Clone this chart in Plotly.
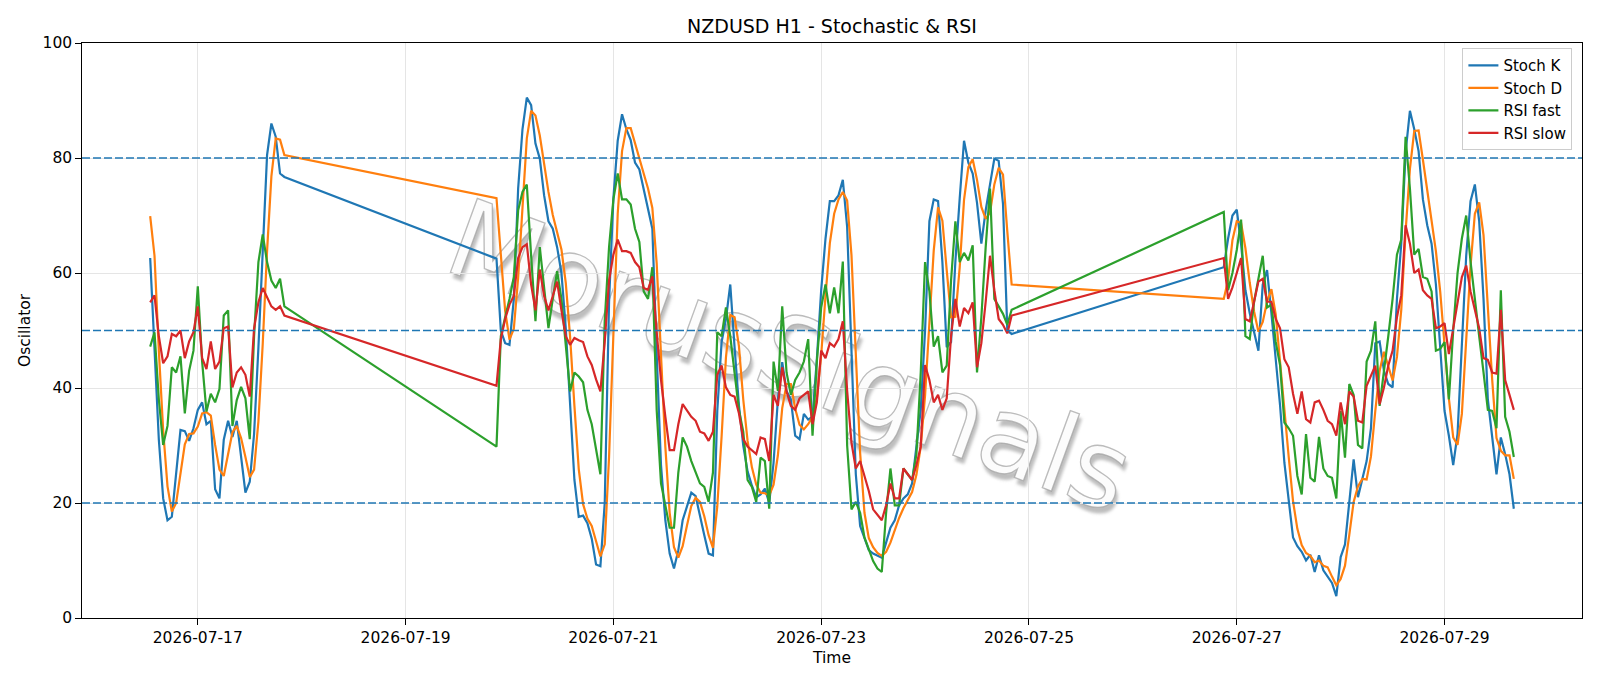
import base64
import pandas as pd
import plotly.graph_objects as go

# ---------------- data (hourly bars, three sessions separated by weekends) ----------------
SEG_STARTS = ["2026-07-16 13:00", "2026-07-19 21:00", "2026-07-26 21:00"]

STOCH_K_1 = [62.6, 46, 31, 20.8, 17, 17.6, 25.3, 32.7, 32.5, 30.8, 33, 36.2, 37.5, 33.7, 34.3, 22.4,
             20.8, 31, 34.3, 31.5, 34.3, 28, 21.8, 23.7, 32, 47, 64, 80.5, 86, 83.7, 77.3, 76.7]
STOCH_D_1 = [69.9, 63, 46.5, 32.6, 22.9, 18.5, 20, 25.2, 30.2, 32, 32.1, 33.3, 35.6, 35.8, 35.2, 30.1,
             25.8, 24.7, 28.7, 32.3, 33.4, 31.3, 28, 24.5, 25.8, 34.2, 47.7, 63.8, 76.8, 83.4, 83.2, 80.5]
RSI_FAST_1 = [47.2, 49.7, 38, 30.1, 33.4, 43.6, 42.7, 45.5, 35.6, 43, 46.5, 57.7, 44.6, 35.9, 39, 37.5,
              39.8, 52.6, 53.5, 33.4, 37.9, 40.2, 38.2, 31.1, 49, 61.9, 66.7, 61.9, 58.7, 57.4, 59, 54.2]
RSI_SLOW_1 = [54.9, 56.1, 49, 44.3, 45.5, 49.4, 49, 50, 45.2, 48.1, 49.7, 54.2, 45.2, 43.3, 48.1, 43.3,
              44.6, 50.4, 50.7, 40.1, 42.7, 43.6, 42.3, 38.5, 50.4, 54.9, 57.4, 55.8, 54.2, 53.6, 54.2, 52.6]

STOCH_K_2 = [62.5, 50, 47.8, 47.5, 55.5, 74.7, 85, 90.5, 89.2, 82.5,
             79.9, 73.5, 69, 67.7, 64.5, 60, 50.4, 36.2, 24, 17.6,
             17.8, 16.5, 13.8, 9.3, 9, 20, 55, 73, 83, 87.6,
             85, 83.1, 79.2, 78, 74.7, 71.5, 67.7, 45.9, 26.6, 17,
             11.2, 8.6, 11.8, 17, 19.6, 21.8, 21.2, 17.6, 14.4, 11.2,
             10.9, 36, 48, 52, 58, 47, 37, 30, 25.5, 23,
             21, 21.5, 22.5, 20, 27, 38, 44.5, 39.5, 38, 31.7,
             31.1, 35.5, 34.5, 35, 45, 57, 66, 72.5, 72.5, 73.5,
             76.2, 68, 45, 25, 16, 13.8, 11.8, 11.2, 10.8, 10.5,
             13.1, 15.7, 17, 19.6, 20.8, 21.5, 23.4, 29.8, 36.2, 50,
             69, 72.8, 72.5, 61.9, 47.1, 48, 62, 73, 83, 79.2,
             77.3, 72.2, 65.1, 70.9, 75.4, 79.9, 79.5, 72, 50, 49.4]
STOCH_D_2 = [73, 63.1, 53.4, 48.4, 50.3, 59.2, 71.7, 83.4, 88.2, 87.4,
             83.9, 78.6, 74.1, 70.1, 67.1, 64.1, 58.3, 48.9, 36.9, 25.9,
             19.8, 17.3, 16, 13.2, 10.7, 12.8, 28, 49.3, 70.3, 81.2,
             85.2, 85.2, 82.4, 80.1, 77.3, 74.7, 71.3, 61.7, 46.7, 29.8,
             18.3, 12.3, 10.5, 12.5, 16.1, 19.5, 20.9, 20.2, 17.7, 14.4,
             12.2, 19.4, 31.6, 45.3, 52.7, 52.3, 47.3, 38, 30.8, 26.2,
             23.2, 21.8, 21.7, 21.3, 23.2, 28.3, 36.5, 40.7, 40.7, 36.4,
             33.6, 32.8, 33.7, 35, 38.2, 45.7, 56, 65.2, 70.3, 72.8,
             74.1, 72.6, 63.1, 46, 28.7, 18.3, 13.9, 12.3, 11.3, 10.8,
             11.5, 13.1, 15.3, 17.4, 19.1, 20.6, 21.9, 24.9, 29.8, 38.7,
             51.7, 63.9, 71.4, 69.1, 60.5, 52.3, 52.4, 61, 72.7, 78.4,
             79.8, 76.2, 71.5, 69.4, 70.5, 75.4, 78.3, 77.1, 67.2, 58]
RSI_FAST_2 = [29.8, 49, 52.3, 55.5, 59.3, 70.9, 74.1, 75.4, 63, 51.6,
              64.5, 56.8, 50.4, 55.5, 60.3, 55.5, 47.8, 39.4, 42.7, 42,
              41, 36.2, 33.7, 29.2, 25, 51.6, 64.5, 72.8, 77.3, 72.8,
              72.8, 71.9, 67.7, 65.4, 56.8, 55.5, 61, 36.2, 23.4, 19.6,
              15.7, 15.7, 25.3, 31.4, 29.8, 27.3, 25.3, 23.4, 22.8, 20.2,
              25.3, 49.7, 49, 54, 49, 42.7, 36.2, 32.4, 24, 22.8,
              20.2, 27.9, 27.3, 19, 44.6, 39.5, 54.2, 42.7, 38.8, 41.4,
              42.7, 44.6, 48.5, 31.7, 44.6, 54, 58, 53, 57.5, 53,
              62, 30, 18.9, 20.2, 18.3, 14, 11.9, 9.9, 8.6, 8,
              18.3, 26, 19.6, 19.6, 26, 25, 24, 28.5, 42.7, 61.9,
              56.8, 47.2, 49, 42.7, 43.9, 58.7, 69, 61.9, 63.5, 62.2,
              64.8, 42.7, 52.3, 64.5, 74.7, 55.5, 54.2, 52.9, 51, 53.6]
RSI_SLOW_2 = [40.4, 48.5, 52, 54.5, 56, 62.6, 64.5, 65, 58, 53.5,
              60.6, 56, 53.5, 56, 58.5, 53.5, 49, 47.5, 48.7, 48.3,
              48, 45.5, 44, 41.5, 39.4, 48, 58.7, 63.2, 65.8, 63.8,
              63.8, 63.5, 61.9, 61, 57.4, 57.1, 59.4, 49.7, 41.4, 35,
              29.2, 29.2, 33.7, 37.2, 36.2, 35, 34.3, 32.4, 32.1, 30.8,
              32.4, 42.3, 43.9, 40.1, 38.8, 38.5, 35.6, 31.1, 29.8, 29.2,
              28.5, 31.4, 31.1, 27.3, 38.8, 36.9, 43.6, 39.4, 36.9, 36.2,
              38.2, 38.8, 39.4, 33.7, 37.5, 46.5, 45.2, 47.8, 47.2, 48.5,
              51.6, 39.5, 30.5, 26, 27.3, 24.7, 22.1, 18.9, 18, 17,
              19.6, 23.4, 20.8, 20.8, 26, 25, 24, 26.6, 29.8, 44,
              41.4, 37.5, 38.8, 36.2, 38.2, 49, 55.5, 50.7, 53.9, 53,
              54.9, 43.6, 47.8, 55, 63, 57, 52, 51, 49.5, 52.6]

STOCH_K_3 = [61, 66, 70, 71, 65, 57, 53, 50, 46.5, 58,
             60.5, 53, 45, 37, 27, 20, 14, 12.5, 11.5, 10,
             11, 8, 10.9, 8.3, 7.2, 6.1, 3.8, 10.6, 12.8, 20.2,
             27.6, 21, 24, 27.3, 33, 47.8, 48.1, 43, 40.7, 40.1,
             55.5, 65.1, 81, 88.2, 85, 81.2, 72.8, 68.3, 65.1, 58,
             47, 36, 31.7, 26.6, 32, 48, 63, 72.5, 75.4, 69,
             55.5, 38, 31, 25, 31.4, 28.5, 25, 19]
STOCH_D_3 = [55.5, 58.8, 65.7, 69, 68.7, 64.3, 58.3, 53.3, 49.8, 51.5,
             55, 57.2, 52.8, 45, 36.3, 28, 20.3, 15.5, 12.7, 11.3,
             10.8, 9.7, 10, 9.1, 8.8, 7.2, 5.7, 6.8, 9.1, 14.5,
             20.2, 22.9, 24.2, 24.1, 28.1, 36, 43, 46.3, 43.9, 41.3,
             45.4, 53.6, 67.2, 78.1, 84.7, 84.8, 79.7, 74.1, 68.7, 63.8,
             56.7, 47, 38.2, 31.4, 30.1, 35.5, 47.7, 61.2, 70.3, 72.3,
             66.6, 54.2, 41.5, 31.3, 29.1, 28.3, 28.3, 24.2]
RSI_FAST_3 = [70.6, 57, 60, 64, 69.3, 49, 48.5, 55, 59, 63,
              54, 54.5, 48, 44, 34, 33, 31.7, 24.7, 21.5, 32,
              24.4, 23.7, 31.5, 26, 24.7, 24.4, 20.8, 36, 27.9, 40.7,
              38.8, 30.1, 29.5, 44.6, 46.5, 51.6, 36.9, 42.7, 49, 55.5,
              63.2, 65.8, 83.7, 74.7, 63.2, 64.2, 59.3, 59, 56.8, 46.5,
              46.8, 48, 38, 50, 60, 66, 70, 62, 55, 49,
              42.7, 36.2, 36, 33, 57, 35, 32.4, 28]
RSI_SLOW_3 = [62.6, 55.5, 57.5, 60, 62.6, 52, 51.6, 55, 58.5, 59,
              55, 55, 52, 50.4, 45, 43.6, 39, 35.5, 39.4, 34.6,
              34, 37.5, 37.8, 36.2, 34.3, 33.7, 31.7, 37.5, 33.7, 39.4,
              38.5, 34.3, 34, 40.4, 42, 43.9, 37.2, 40.1, 43.9, 46.5,
              52.3, 56.1, 68.3, 65.1, 60, 60.6, 57, 56.1, 55.5, 50.4,
              50.7, 51.3, 45.9, 50.4, 55.5, 59.3, 61.3, 56.8, 53.6, 50.4,
              45.2, 44.9, 42.7, 42.5, 53.6, 41.4, 38.8, 36.2]

LEVELS = [20, 50, 80]
X_TICKS = ["2026-07-17", "2026-07-19", "2026-07-21", "2026-07-23",
           "2026-07-25", "2026-07-27", "2026-07-29"]
Y_TICKS = [0, 20, 40, 60, 80, 100]
WATERMARK = "MorusSignals"

# ---------------- build ----------------
time = []
for start, n in zip(SEG_STARTS, [len(STOCH_K_1), len(STOCH_K_2), len(STOCH_K_3)]):
    time.extend(pd.date_range(start, periods=n, freq="h"))

series = [
    ("Stoch K", STOCH_K_1 + STOCH_K_2 + STOCH_K_3, "#1f77b4"),
    ("Stoch D", STOCH_D_1 + STOCH_D_2 + STOCH_D_3, "#ff7f0e"),
    ("RSI fast", RSI_FAST_1 + RSI_FAST_2 + RSI_FAST_3, "#2ca02c"),
    ("RSI slow", RSI_SLOW_1 + RSI_SLOW_2 + RSI_SLOW_3, "#d62728"),
]

FONT = "DejaVu Sans"
fig = go.Figure()
for name, vals, col in series:
    fig.add_trace(go.Scatter(x=time, y=vals, mode="lines", name=name,
                             line=dict(color=col, width=2.2)))

for lv in LEVELS:
    fig.add_shape(type="line", xref="paper", x0=0, x1=1, yref="y", y0=lv, y1=lv,
                  line=dict(color="#1f77b4", width=1.5, dash="8px,3px"), layer="above")

# watermark drawn beneath the traces as an SVG background image over the plot area
svg = (
    '<svg xmlns="http://www.w3.org/2000/svg" width="1500" height="575" viewBox="0 0 1500 575">'
    '<defs><filter id="b" x="-20%" y="-20%" width="140%" height="140%">'
    '<feGaussianBlur stdDeviation="1.6"/></filter></defs>'
    '<g transform="translate(708,313) rotate(20)" font-family="DejaVu Sans" font-size="108" '
    'text-anchor="middle" dominant-baseline="central">'
    f'<text x="4" y="4" fill="rgb(110,110,110)" fill-opacity="0.45" filter="url(#b)">{WATERMARK}</text>'
    f'<text x="0" y="0" fill="rgb(252,252,252)" stroke="rgb(160,160,160)" stroke-opacity="0.7" '
    f'stroke-width="1.3">{WATERMARK}</text>'
    '</g></svg>'
)
src = "data:image/svg+xml;base64," + base64.b64encode(svg.encode("utf-8")).decode("ascii")
fig.add_layout_image(dict(source=src, xref="paper", yref="paper", x=0, y=1, sizex=1, sizey=1,
                          xanchor="left", yanchor="top", sizing="stretch", layer="below"))

axis_common = dict(
    showgrid=True, gridcolor="#e5e5e5", gridwidth=1,
    showline=True, linecolor="black", linewidth=1.3, mirror=True,
    ticks="outside", ticklen=5.6, tickwidth=1.3, tickcolor="black",
    tickfont=dict(family=FONT, size=15.5, color="black"),
    zeroline=False,
)

fig.update_layout(
    width=1600, height=686,
    margin=dict(l=82, r=18, t=43, b=68),
    paper_bgcolor="white", plot_bgcolor="white",
    font=dict(family=FONT, color="black"),
    title=dict(text="NZDUSD H1 - Stochastic & RSI", x=0.5, xref="paper",
               y=1 - 26.5 / 686, yref="container", yanchor="middle", xanchor="center",
               font=dict(family=FONT, size=19, color="black")),
    xaxis=dict(type="date", range=["2026-07-15 21:15", "2026-07-30 07:45"],
               tickmode="array", tickvals=X_TICKS, ticktext=X_TICKS,
               title=dict(text="Time", font=dict(family=FONT, size=15.5), standoff=5),
               **axis_common),
    yaxis=dict(range=[0, 100], tickmode="array", tickvals=Y_TICKS,
               title=dict(text="Oscillator", font=dict(family=FONT, size=15.5), standoff=8),
               **axis_common),
    legend=dict(x=0.9936, y=0.991, xanchor="right", yanchor="top",
                bgcolor="rgba(255,255,255,0.8)", bordercolor="#cccccc", borderwidth=1,
                font=dict(family=FONT, size=15, color="black"), tracegroupgap=0),
    showlegend=True,
)

fig.write_html("out.html")
